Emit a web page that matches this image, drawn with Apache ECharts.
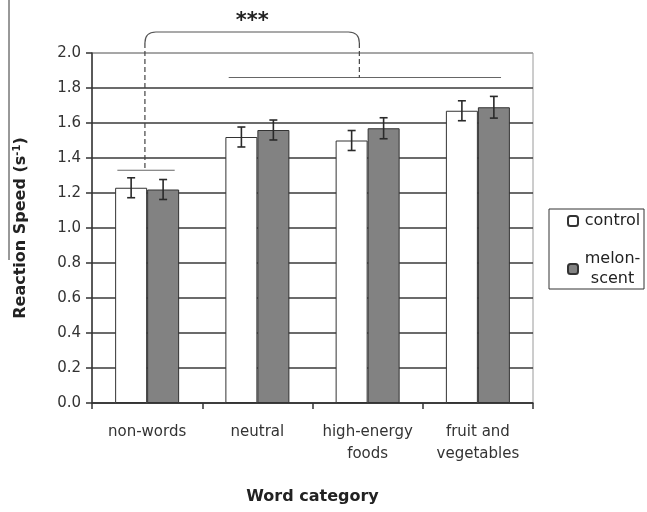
<!DOCTYPE html>
<html><head><meta charset="utf-8">
<script src="https://cdn.jsdelivr.net/npm/echarts@6/dist/echarts.min.js"></script>
<style>html,body{margin:0;padding:0;background:#fff}#c{width:647px;height:512px}</style>
</head><body><div id="c"></div>
<script>
var categories = ['non-words', 'neutral', 'high-energy\nfoods', 'fruit and\nvegetables'];
var controlValues = [1.23, 1.52, 1.50, 1.67];
var melonValues = [1.22, 1.56, 1.57, 1.69];
var controlErr = [0.057, 0.057, 0.057, 0.057];
var melonErr = [0.057, 0.057, 0.06, 0.062];
var yTicks = [0.0, 0.2, 0.4, 0.6, 0.8, 1.0, 1.2, 1.4, 1.6, 1.8, 2.0];
// significance annotation values (y in axis units)
var nonWordsLineY = 1.33;
var groupLineY = 1.86;
var bracketTopY = 2.12;
var starsY = 2.18;
var starsText = '***';

var font = '"DejaVu Sans", Verdana, sans-serif';
var chart = echarts.init(document.getElementById('c'), null, {renderer: 'canvas'});

function errData(vals, errs) {
  return vals.map(function (v, i) { return [i, v - errs[i], v + errs[i]]; });
}
function errRender(offset) {
  return function (params, api) {
    var i = api.value(0);
    var bw = api.size([1, 0])[0];
    var lo = api.coord([i, api.value(1)]);
    var hi = api.coord([i, api.value(2)]);
    var x = lo[0] + bw * offset;
    var cap = 4;
    var st = {stroke: '#2a2a2a', lineWidth: 1.6};
    return {type: 'group', children: [
      {type: 'line', shape: {x1: x, y1: lo[1], x2: x, y2: hi[1]}, style: st},
      {type: 'line', shape: {x1: x - cap, y1: lo[1], x2: x + cap, y2: lo[1]}, style: st},
      {type: 'line', shape: {x1: x - cap, y1: hi[1], x2: x + cap, y2: hi[1]}, style: st}
    ]};
  };
}

function annotRender(params, api) {
  if (params.dataIndex !== 0) return null;
  var bw = api.size([1, 0])[0];
  var c0 = api.coord([0, nonWordsLineY]);
  var c1 = api.coord([1, groupLineY]);
  var c3 = api.coord([3, groupLineY]);
  var top = api.coord([0, bracketTopY])[1];
  var starY = api.coord([0, starsY])[1];
  var nwL = c0[0] - bw * 0.27, nwR = c0[0] + bw * 0.25;
  var gL = c1[0] - bw * 0.26, gR = c3[0] + bw * 0.21;
  var xl = c0[0] - bw * 0.02;
  var xr = (gL + gR) / 2 - bw * 0.05;
  var r = 11;
  var solid = {stroke: '#555', lineWidth: 1.2, fill: null};
  var dashed = {stroke: '#444', lineWidth: 1.2, lineDash: [5, 3]};
  return {type: 'group', children: [
    {type: 'line', shape: {x1: nwL, y1: c0[1], x2: nwR, y2: c0[1]}, style: {stroke: '#666', lineWidth: 1.2}},
    {type: 'line', shape: {x1: gL, y1: c1[1], x2: gR, y2: c1[1]}, style: {stroke: '#666', lineWidth: 1.2}},
    {type: 'path', shape: {pathData: 'M' + xl + ',' + (top + r) + ' Q' + xl + ',' + top + ' ' + (xl + r) + ',' + top +
      ' L' + (xr - r) + ',' + top + ' Q' + xr + ',' + top + ' ' + xr + ',' + (top + r)}, style: solid},
    {type: 'line', shape: {x1: xl, y1: top + r, x2: xl, y2: c0[1]}, style: dashed},
    {type: 'line', shape: {x1: xr, y1: top + r, x2: xr, y2: c1[1]}, style: dashed},
    {type: 'text', style: {text: starsText, x: (xl + xr) / 2, y: starY, align: 'center', verticalAlign: 'middle',
      font: 'bold 21px ' + font, fill: '#222'}}
  ]};
}

var splitColors = yTicks.map(function (t, i) { return i === yTicks.length - 1 ? '#9a9a9a' : '#3a3a3a'; });

chart.setOption({
  animation: false,
  backgroundColor: '#fff',
  textStyle: {fontFamily: font},
  grid: {left: 92, right: 114, top: 53, bottom: 109, show: true, borderColor: '#9a9a9a', borderWidth: 1, backgroundColor: 'transparent'},
  legend: {
    data: ['control', 'melon-scent'], orient: 'vertical', left: 549, top: 209,
    itemWidth: 10, itemHeight: 10, itemGap: 22,
    borderColor: '#333', borderWidth: 1, padding: [4, 2, 2, 18],
    formatter: function (n) { return n === 'melon-scent' ? '{a|melon-}\n{a|scent}' : '{a|control}'; },
    textStyle: {fontSize: 16, color: '#222', fontFamily: font,
      rich: {a: {fontSize: 16, color: '#222', width: 59, align: 'center', lineHeight: 20, fontFamily: font}}}
  },
  xAxis: {
    type: 'category', data: categories,
    axisLine: {lineStyle: {color: '#333', width: 1.5}},
    axisTick: {show: true, interval: 0, length: 6, lineStyle: {color: '#333', width: 1.5}},
    axisLabel: {interval: 0, hideOverlap: false, fontSize: 15, color: '#333', margin: 18, lineHeight: 22, fontFamily: font},
    name: 'Word category', nameLocation: 'middle', nameGap: 86,
    nameTextStyle: {fontSize: 16, fontWeight: 'bold', color: '#222', fontFamily: font}
  },
  yAxis: {
    type: 'value', min: 0, max: 2, interval: 0.2,
    axisLine: {show: true, lineStyle: {color: '#333', width: 1.5}},
    axisTick: {show: true, length: 6, lineStyle: {color: '#333', width: 1.5}},
    axisLabel: {fontSize: 15, color: '#333', margin: 11, fontFamily: font,
      formatter: function (v) { return v.toFixed(1); }},
    splitLine: {show: true, lineStyle: {color: splitColors, width: 1.5}},
    name: 'Reaction Speed (s{sup|-1})', nameLocation: 'middle', nameGap: 62, nameRotate: 90,
    nameTextStyle: {fontSize: 16, fontWeight: 'bold', color: '#222', fontFamily: font,
      rich: {sup: {fontSize: 10, fontWeight: 'bold', color: '#222', verticalAlign: 'top', padding: [0, 0, 8, 0], fontFamily: font}}}
  },
  series: [
    {name: 'control', type: 'bar', data: controlValues, barWidth: 32, barGap: '0%',
      itemStyle: {color: '#ffffff', borderColor: '#333', borderWidth: 1}},
    {name: 'melon-scent', type: 'bar', data: melonValues, barWidth: 32, barGap: '0%',
      itemStyle: {color: '#828282', borderColor: '#333', borderWidth: 1}},
    {type: 'custom', name: 'errC', data: errData(controlValues, controlErr), renderItem: errRender(-0.145), z: 5},
    {type: 'custom', name: 'errM', data: errData(melonValues, melonErr), renderItem: errRender(0.145), z: 5},
    {type: 'custom', name: 'annot', data: [[0, 0]], renderItem: annotRender, clip: false, z: 6}
  ],
  graphic: [
    {type: 'line', shape: {x1: 9, y1: 0, x2: 9, y2: 260}, style: {stroke: '#333', lineWidth: 1}}
  ]
});
</script></body></html>
